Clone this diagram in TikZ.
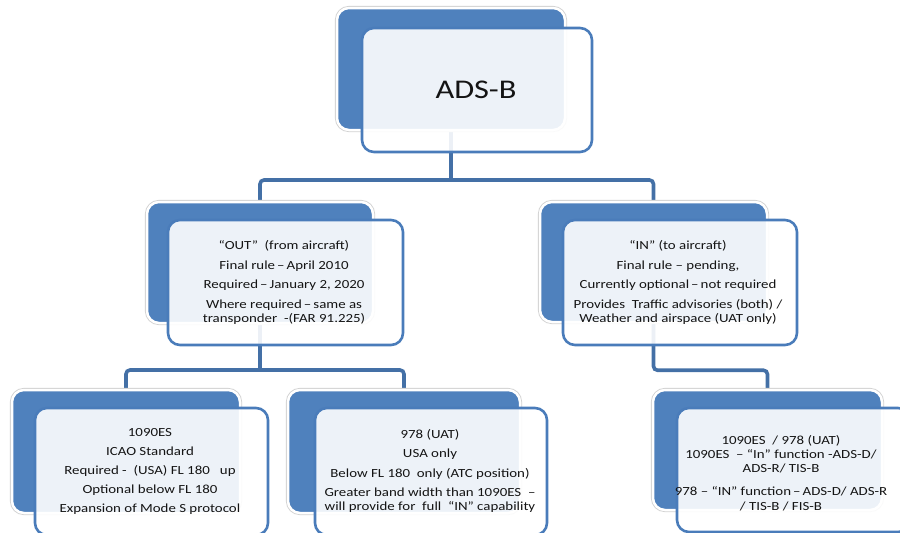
\documentclass[tikz,border=0pt]{standalone}
\usepackage{fontspec}
\setmainfont{Carlito}[FakeStretch=1.2]
\pgfdeclarelayer{bg}
\pgfsetlayers{bg,main}
\definecolor{boxblue}{RGB}{79,129,189}
\definecolor{edgeblue}{RGB}{74,124,186}
\definecolor{connblue}{RGB}{68,112,166}
\definecolor{txt}{RGB}{20,20,20}
\tikzset{
  backbox/.style={rectangle, rounded corners=12pt, fill=boxblue, draw=white, line width=2.5pt,
    preaction={draw=black!18, line width=4.2pt},
    minimum width=228pt, minimum height=122pt, inner sep=0pt},
  frontbox/.style={rectangle, rounded corners=12pt, fill=white, fill opacity=0.9, draw=edgeblue,
    line width=2.6pt, minimum width=233pt, minimum height=125pt, inner sep=0pt},
  label/.style={align=center, text=txt, font=\fontsize{12.4}{14.5}\selectfont, inner sep=0pt},
  conn/.style={draw=connblue, line width=3.6pt, rounded corners=4pt},
}
\begin{document}
\begin{tikzpicture}[x=1pt,y=-1pt]
\useasboundingbox (0,0) rectangle (900,533);
\clip (0,0) rectangle (900,533);
% top
\node[backbox] (topB) at (451,69) {};
\node[frontbox, minimum width=230pt, minimum height=124pt] (topF) at (477,90) {};
\node[text=txt, font=\fontsize{27}{30}\selectfont, inner sep=0pt] (topT) at (476,90) {ADS-B};
% middle left
\node[backbox, minimum width=226pt, minimum height=121pt] (mlB) at (260,262.5) {};
\node[frontbox, minimum width=235pt] (mlF) at (285.5,282.5) {};
\node[label] (mlT) at (284,282.5) {“OUT”\ \ (from aircraft)\\[5pt]
Final rule\,–\,April 2010\\[5pt]
Required\,–\,January 2, 2020\\[5pt]
Where required\,–\,same as\\
transponder\ \ -(FAR 91.225)};
% middle right
\node[backbox, minimum width=227pt, minimum height=120pt] (mrB) at (653.5,262) {};
\node[frontbox, minimum width=234pt] (mrF) at (680,282.5) {};
\node[label] (mrT) at (678,282.5) {“IN” (to aircraft)\\[5pt]
Final rule – pending,\\[5pt]
Currently optional\,–\,not required\\[5pt]
Provides\ \ Traffic advisories (both) /\\
Weather and airspace (UAT only)};
% bottom left
\node[backbox, minimum height=123pt] (blB) at (126,451.5) {};
\node[frontbox, minimum height=127pt] (blF) at (151.5,471.5) {};
\node[label] (blT) at (150,471) {1090ES\\[4.5pt]
ICAO Standard\\[4.5pt]
Required -\ \ (USA) FL 180\ \ \ up\\[4.5pt]
Optional below FL 180\\[4.5pt]
Expansion of Mode S protocol};
% bottom middle
\node[backbox, minimum width=232pt, minimum height=123pt] (bmB) at (404,451.5) {};
\node[frontbox, minimum width=232pt, minimum height=127pt] (bmF) at (431,471.5) {};
\node[label] (bmT) at (430,471) {978 (UAT)\\[4.5pt]
USA only\\[5pt]
Below FL 180\ \ only (ATC position)\\[4.5pt]
Greater band width than 1090ES\ \ –\\
will provide for\ \ full\ \ “IN” capability};
% bottom right
\node[backbox, minimum width=229pt, minimum height=120pt] (brB) at (767.5,450) {};
\node[frontbox, minimum height=124pt] (brF) at (793.5,470) {};
\node[label] (brT) at (781,473) {1090ES\ \ / 978 (UAT)\\[-0.5pt]
1090ES\ \ – “In” function -ADS-D/\\
ADS-R/ TIS-B\\[8.5pt]
978 – “IN” function\,–\,ADS-D/ ADS-R\\
/ TIS-B / FIS-B};
% connectors
\begin{pgfonlayer}{bg}
\coordinate (j1) at (topB.south |- 0,180);
\coordinate (j2) at (mlB.south |- 0,370);
\draw[conn] (topB.south) -- (j1);
\draw[conn] (mlB.north) |- (j1) -| (mrB.north);
\draw[conn] (mlB.south) -- (j2);
\draw[conn] (blB.north) |- (j2) -| (bmB.north);
\draw[conn] (mrB.south) -- ++(0,47) -| (brB.north);
\end{pgfonlayer}
\end{tikzpicture}
\end{document}
